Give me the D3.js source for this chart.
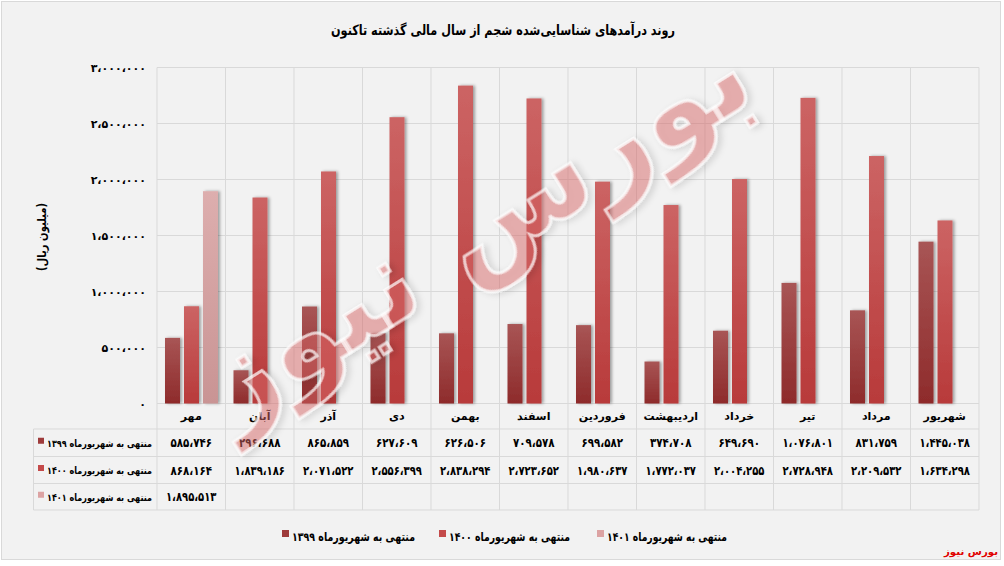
<!DOCTYPE html>
<html><head><meta charset="utf-8">
<script src="https://cdn.jsdelivr.net/npm/d3@7"></script>
<style>
html,body{margin:0;padding:0;background:#fff;}
svg{display:block;}
text{font-family:"DejaVu Sans",sans-serif;font-weight:bold;}
</style></head>
<body>
<script>
const title = "روند درآمدهای شناسایی‌شده شجم از سال مالی گذشته تاکنون";
const yTitle = "(میلیون ریال)";
const categories = ["مهر","آبان","آذر","دی","بهمن","اسفند","فروردین","اردیبهشت","خرداد","تیر","مرداد","شهریور"];
const seriesNames = ["منتهی به شهریورماه ۱۳۹۹","منتهی به شهریورماه ۱۴۰۰","منتهی به شهریورماه ۱۴۰۱"];
const s1399 = [585746,296688,865859,627609,626506,709578,699582,374708,649690,1076801,831759,1445038];
const s1400 = [868164,1839186,2071522,2556399,2838294,2723652,1980637,1772037,2004255,2728948,2209532,1634298];
const s1401 = [1895513,null,null,null,null,null,null,null,null,null,null,null];
const yTicks = [0,500000,1000000,1500000,2000000,2500000,3000000];
const colors = [["#a85555","#8e2b2b"],["#cc6464","#b83a3a"],["#ddaeae","#c99494"]];
const legendColors = ["#9e3b3b","#c44a4a","#dca3a3"];
const watermark = "بورس نیوز";

const W = 1004, H = 566;
const fa = s => String(s).replace(/\d/g, d => "۰۱۲۳۴۵۶۷۸۹"[d]).replace(/,/g, "،");
const fmt = v => fa(d3.format(",")(v));
const series = [s1399, s1400, s1401];

const svg = d3.select("body").append("svg").attr("width", W).attr("height", H);
const defs = svg.append("defs");
colors.forEach((c,i)=>{
  const g = defs.append("linearGradient").attr("id","g"+i).attr("x1",0).attr("y1",0).attr("x2",0).attr("y2",1);
  g.append("stop").attr("offset","0%").attr("stop-color",c[0]);
  g.append("stop").attr("offset","100%").attr("stop-color",c[1]);
});
const f = defs.append("filter").attr("id","sh").attr("x","-50%").attr("y","-10%").attr("width","200%").attr("height","120%");
f.append("feDropShadow").attr("dx",2).attr("dy",0).attr("stdDeviation",1.8).attr("flood-color","#000").attr("flood-opacity",0.35);
const wf = defs.append("filter").attr("id","wm").attr("x","-20%").attr("y","-20%").attr("width","140%").attr("height","140%");
wf.append("feDropShadow").attr("dx",3).attr("dy",3).attr("stdDeviation",3).attr("flood-color","#000").attr("flood-opacity",0.2);

svg.append("rect").attr("x",1.5).attr("y",1.5).attr("width",999).attr("height",558)
  .attr("fill","#f2f2f2").attr("stroke","#d9d9d9");

const x0 = 157, x1 = 979, yTop = 67.5, yBase = 403.5;
const x = d3.scaleBand().domain(categories).range([x0, x1]);
const xs = d3.scaleBand().domain([0,1,2]).range([8, 61]).paddingInner(4/19);
const y = d3.scaleLinear().domain([0, 3000000]).range([yBase, yTop]);

const gridC = "#d9d9d9";
svg.append("g").selectAll("line").data(yTicks).join("line")
  .attr("x1",x0).attr("x2",x1).attr("y1",d=>y(d)).attr("y2",d=>y(d))
  .attr("stroke",gridC).attr("stroke-width",1);
const rowY = [403.5, 429, 456.5, 483.5, 510];
svg.append("g").selectAll("line").data(categories.map(c=>x(c)).concat([x1])).join("line")
  .attr("x1",d=>d).attr("x2",d=>d).attr("y1",yTop).attr("y2",rowY[4])
  .attr("stroke",gridC);
svg.append("g").selectAll("line").data(rowY).join("line")
  .attr("x1",(d,i)=>i<1?x0:33.5).attr("x2",x1).attr("y1",d=>d).attr("y2",d=>d)
  .attr("stroke",gridC);
svg.append("line").attr("x1",33.5).attr("x2",33.5).attr("y1",rowY[1]).attr("y2",rowY[4]).attr("stroke",gridC);

const yAxis = d3.axisLeft(y).tickValues(yTicks).tickSize(0).tickPadding(0).tickFormat(fmt);
const ya = svg.append("g").attr("transform",`translate(146,0)`).call(yAxis);
ya.select(".domain").remove();
ya.selectAll("text").attr("font-size",11).attr("font-family","DejaVu Sans").attr("font-weight","bold").attr("fill","#000");

series.forEach((s,si)=>{
  svg.append("g").attr("filter","url(#sh)").selectAll("rect")
    .data(categories.map((c,i)=>({c, v:s[i]})).filter(d=>d.v!=null)).join("rect")
    .attr("x",d=>x(d.c)+xs(si)).attr("width",xs.bandwidth())
    .attr("y",d=>y(d.v)).attr("height",d=>y(0)-y(d.v))
    .attr("fill",`url(#g${si})`);
});

svg.append("g").selectAll("text").data(categories).join("text")
  .attr("x",d=>x(d)+x.bandwidth()/2).attr("y",(rowY[0]+rowY[1])/2+4)
  .attr("text-anchor","middle").attr("font-size",11).attr("fill","#000").text(d=>d);

const numLen = v => { const s = d3.format(",")(v); const dg = s.replace(/,/g,"").length; return dg*6.5 + (s.length-dg)*2.5; };
series.forEach((s,si)=>{
  const cy = (rowY[si+1]+rowY[si+2])/2 + 4.5;
  svg.append("g").selectAll("text").data(categories.map((c,i)=>({c,v:s[i]})).filter(d=>d.v!=null)).join("text")
    .attr("x",d=>x(d.c)+x.bandwidth()/2).attr("y",cy)
    .attr("text-anchor","middle").attr("font-size",12.5).attr("fill","#000")
    .attr("textLength",d=>numLen(d.v)).attr("lengthAdjust","spacingAndGlyphs").text(d=>fmt(d.v));
  svg.append("rect").attr("x",38).attr("y",cy-9.5).attr("width",6).attr("height",6).attr("fill",legendColors[si]);
  svg.append("text").attr("x",47).attr("y",cy-0.5)
    .attr("font-size",10).attr("textLength",105).attr("lengthAdjust","spacingAndGlyphs")
    .attr("fill","#000").text(seriesNames[si]);
});

svg.append("text").attr("x",331).attr("y",35)
  .attr("font-size",14).attr("textLength",344).attr("lengthAdjust","spacingAndGlyphs")
  .attr("fill","#000").text(title);

svg.append("text").attr("transform","translate(46,271) rotate(-90)")
  .attr("font-size",12).attr("textLength",68).attr("lengthAdjust","spacingAndGlyphs")
  .attr("fill","#000").text(yTitle);

const legX = [[282,292,415],[439,449,570],[597,607,727]];
seriesNames.forEach((n,i)=>{
  svg.append("rect").attr("x",legX[i][0]).attr("y",530).attr("width",7).attr("height",7).attr("fill",legendColors[i]);
  svg.append("text").attr("x",legX[i][1]).attr("y",541)
    .attr("font-size",12).attr("textLength",legX[i][2]-legX[i][1]).attr("lengthAdjust","spacingAndGlyphs")
    .attr("fill","#000").text(n);
});

svg.append("text").attr("transform","translate(495,262) rotate(-32)").attr("text-anchor","middle")
  .attr("font-size",118).attr("fill","#e06a6a").attr("fill-opacity",0.45)
  .attr("stroke","#fff").attr("stroke-width",3).attr("stroke-opacity",0.7)
  .attr("filter","url(#wm)").attr("pointer-events","none").text(watermark);

svg.append("text").attr("x",998).attr("y",555).attr("text-anchor","end")
  .attr("font-size",10).attr("textLength",54).attr("lengthAdjust","spacingAndGlyphs")
  .attr("fill","#e00000").text(watermark);
</script>
</body></html>
